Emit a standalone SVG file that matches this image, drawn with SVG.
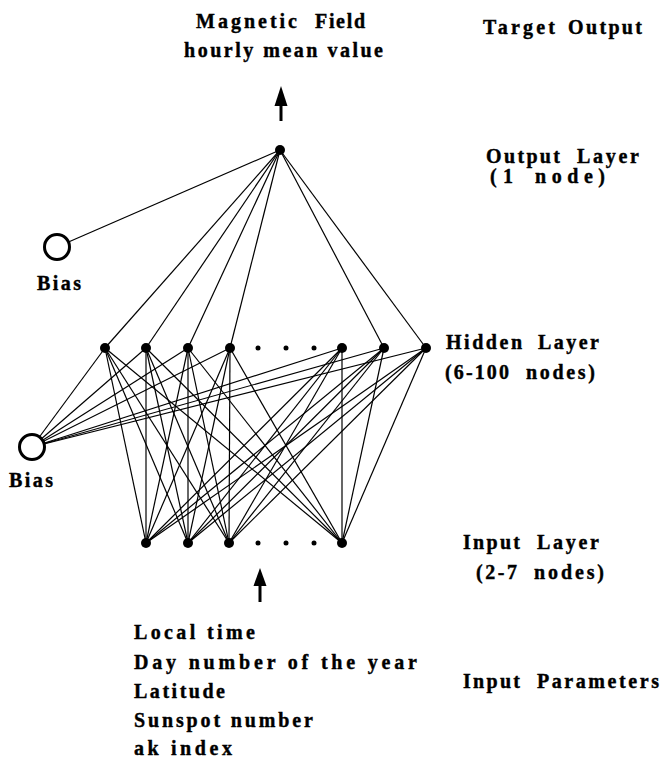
<svg xmlns="http://www.w3.org/2000/svg" width="661" height="759" viewBox="0 0 661 759">
<style>
.t{font-family:"Liberation Serif","DejaVu Serif",serif;font-weight:bold;font-size:20px;fill:#000;stroke:#000;stroke-width:0.4}
.c line{stroke:#000;stroke-width:1.2}
.n{fill:#000}
.b{fill:#fff;stroke:#000;stroke-width:3}
.d{fill:#000}
.c line.a{stroke-width:3}
.h{fill:#000}
</style>
<rect width="661" height="759" fill="#fff"/>
<g id="connectors" class="c">
<line x1="57" y1="247" x2="280" y2="150"/>
<line x1="280" y1="150" x2="105" y2="348"/>
<line x1="280" y1="150" x2="146" y2="348"/>
<line x1="280" y1="150" x2="188" y2="348"/>
<line x1="280" y1="150" x2="230" y2="348"/>
<line x1="280" y1="150" x2="384" y2="348"/>
<line x1="280" y1="150" x2="426" y2="348"/>
<line x1="32" y1="447" x2="105" y2="348"/>
<line x1="32" y1="447" x2="146" y2="348"/>
<line x1="32" y1="447" x2="188" y2="348"/>
<line x1="32" y1="447" x2="230" y2="348"/>
<line x1="32" y1="447" x2="342" y2="348"/>
<line x1="32" y1="447" x2="384" y2="348"/>
<line x1="32" y1="447" x2="426" y2="348"/>
<line x1="105" y1="348" x2="146" y2="543"/>
<line x1="105" y1="348" x2="188" y2="543"/>
<line x1="105" y1="348" x2="229" y2="543"/>
<line x1="105" y1="348" x2="342" y2="543"/>
<line x1="146" y1="348" x2="146" y2="543"/>
<line x1="146" y1="348" x2="188" y2="543"/>
<line x1="146" y1="348" x2="229" y2="543"/>
<line x1="146" y1="348" x2="342" y2="543"/>
<line x1="188" y1="348" x2="146" y2="543"/>
<line x1="188" y1="348" x2="188" y2="543"/>
<line x1="188" y1="348" x2="229" y2="543"/>
<line x1="188" y1="348" x2="342" y2="543"/>
<line x1="230" y1="348" x2="146" y2="543"/>
<line x1="230" y1="348" x2="188" y2="543"/>
<line x1="230" y1="348" x2="229" y2="543"/>
<line x1="230" y1="348" x2="342" y2="543"/>
<line x1="342" y1="348" x2="146" y2="543"/>
<line x1="342" y1="348" x2="188" y2="543"/>
<line x1="342" y1="348" x2="229" y2="543"/>
<line x1="342" y1="348" x2="342" y2="543"/>
<line x1="384" y1="348" x2="146" y2="543"/>
<line x1="384" y1="348" x2="188" y2="543"/>
<line x1="384" y1="348" x2="229" y2="543"/>
<line x1="384" y1="348" x2="342" y2="543"/>
<line x1="426" y1="348" x2="146" y2="543"/>
<line x1="426" y1="348" x2="188" y2="543"/>
<line x1="426" y1="348" x2="229" y2="543"/>
<line x1="426" y1="348" x2="342" y2="543"/>
<line class="a" x1="281" y1="121" x2="281" y2="104"/>
<polygon class="h" points="281,86 287.5,106 274.5,106"/>
<line class="a" x1="260" y1="602" x2="260" y2="583"/>
<polygon class="h" points="260,568 266.5,586 253.5,586"/>
</g>
<g id="output-node"><circle class="n" cx="280" cy="150" r="5"/></g>
<g id="bias-output"><circle class="b" cx="57" cy="247" r="12.5"/><text class="t" x="37" y="290" textLength="44" lengthAdjust="spacing">Bias</text></g>
<g id="bias-hidden"><circle class="b" cx="32" cy="447" r="12.5"/><text class="t" x="9" y="487" textLength="44" lengthAdjust="spacing">Bias</text></g>
<g id="hidden-1"><circle class="n" cx="105" cy="348" r="5"/></g>
<g id="hidden-2"><circle class="n" cx="146" cy="348" r="5"/></g>
<g id="hidden-3"><circle class="n" cx="188" cy="348" r="5"/></g>
<g id="hidden-4"><circle class="n" cx="230" cy="348" r="5"/></g>
<g id="hidden-dots"><circle class="d" cx="258" cy="348" r="2.5"/><circle class="d" cx="286" cy="348" r="2.5"/><circle class="d" cx="314" cy="348" r="2.5"/></g>
<g id="hidden-5"><circle class="n" cx="342" cy="348" r="5"/></g>
<g id="hidden-6"><circle class="n" cx="384" cy="348" r="5"/></g>
<g id="hidden-7"><circle class="n" cx="426" cy="348" r="5"/></g>
<g id="input-1"><circle class="n" cx="146" cy="543" r="5"/></g>
<g id="input-2"><circle class="n" cx="188" cy="543" r="5"/></g>
<g id="input-3"><circle class="n" cx="229" cy="543" r="5"/></g>
<g id="input-dots"><circle class="d" cx="258" cy="543" r="2.5"/><circle class="d" cx="286" cy="543" r="2.5"/><circle class="d" cx="314" cy="543" r="2.5"/></g>
<g id="input-4"><circle class="n" cx="342" cy="543" r="5"/></g>
<g id="target-label">
<text class="t" y="28"><tspan x="196" textLength="101" lengthAdjust="spacing">Magnetic</tspan> <tspan x="315" textLength="50" lengthAdjust="spacing">Field</tspan></text>
<text class="t" x="184" y="57" textLength="199" lengthAdjust="spacing">hourly mean value</text>
</g>
<g id="target-output-label">
<text class="t" y="34"><tspan x="483" textLength="72" lengthAdjust="spacing">Target</tspan> <tspan x="568" textLength="74" lengthAdjust="spacing">Output</tspan></text>
</g>
<g id="output-layer-label">
<text class="t" y="163"><tspan x="486" textLength="74" lengthAdjust="spacing">Output</tspan> <tspan x="577" textLength="62" lengthAdjust="spacing">Layer</tspan></text>
<text class="t" y="183"><tspan x="490" textLength="23" lengthAdjust="spacing">(1</tspan> <tspan x="535" textLength="70" lengthAdjust="spacing">node)</tspan></text>
</g>
<g id="hidden-layer-label">
<text class="t" y="349"><tspan x="446" textLength="76" lengthAdjust="spacing">Hidden</tspan> <tspan x="538" textLength="61" lengthAdjust="spacing">Layer</tspan></text>
<text class="t" y="379"><tspan x="445" textLength="64" lengthAdjust="spacing">(6-100</tspan> <tspan x="526" textLength="69" lengthAdjust="spacing">nodes)</tspan></text>
</g>
<g id="input-layer-label">
<text class="t" y="549"><tspan x="463" textLength="57" lengthAdjust="spacing">Input</tspan> <tspan x="537" textLength="62" lengthAdjust="spacing">Layer</tspan></text>
<text class="t" y="579"><tspan x="476" textLength="41" lengthAdjust="spacing">(2-7</tspan> <tspan x="534" textLength="70" lengthAdjust="spacing">nodes)</tspan></text>
</g>
<g id="input-parameters-label">
<text class="t" y="688"><tspan x="463" textLength="57" lengthAdjust="spacing">Input</tspan> <tspan x="537" textLength="122" lengthAdjust="spacing">Parameters</tspan></text>
</g>
<g id="input-parameters">
<text class="t" x="134" y="639" textLength="121" lengthAdjust="spacing">Local time</text>
<text class="t" x="134" y="669" textLength="283" lengthAdjust="spacing">Day number of the year</text>
<text class="t" x="134" y="698" textLength="91" lengthAdjust="spacing">Latitude</text>
<text class="t" x="134" y="727" textLength="179" lengthAdjust="spacing">Sunspot number</text>
<text class="t" x="134" y="755" textLength="98" lengthAdjust="spacing">ak index</text>
</g>
</svg>
